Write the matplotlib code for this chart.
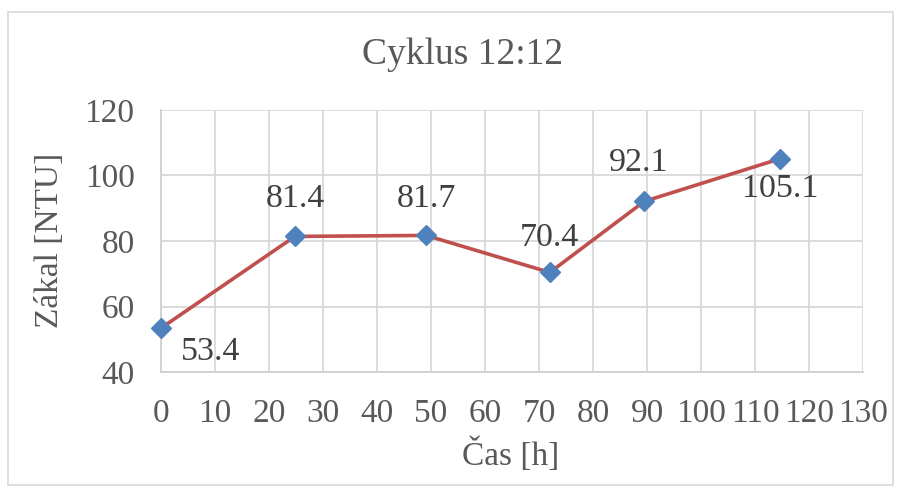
import matplotlib
matplotlib.use("Agg")
import matplotlib.pyplot as plt
from matplotlib.patches import Rectangle

x_hours = [0, 24.8, 49.1, 72, 89.5, 114.6]
turbidity = [53.4, 81.4, 81.7, 70.4, 92.1, 105.1]
x_ticks = list(range(0, 131, 10))
y_ticks = [40, 60, 80, 100, 120]
title = "Cyklus 12:12"
xlabel = "Čas [h]"
ylabel = "Zákal [NTU]"

plt.rcParams['font.family'] = ['Liberation Serif', 'DejaVu Serif']
txt = '#595959'
lab = '#404040'

fig = plt.figure(figsize=(9.01, 4.95), dpi=100)
ax = fig.add_axes([161/901, 1-372/495, (863-161)/901, (372-110)/495])

ax.plot(x_hours, turbidity, color='#C0504D', lw=2.6, marker='D', markersize=10,
        markerfacecolor='#4F81BD', markeredgecolor='#4F81BD', zorder=3, clip_on=False)

offsets = [(50, -24), (0, 38), (0, 37), (0, 35), (-6, 39), (0, -30)]
for xv, yv, off in zip(x_hours, turbidity, offsets):
    ax.annotate(f"{yv:.1f}", (xv, yv), xytext=off, textcoords='offset pixels',
                ha='center', va='center', fontsize=24.5, color=lab)

ax.set_xlim(0, 130)
ax.set_ylim(40, 120)
ax.set_xticks(x_ticks)
ax.set_yticks(y_ticks)
ax.grid(True, color='#D9D9D9', lw=1.3)
ax.set_axisbelow(True)
for s in ['top', 'right']:
    ax.spines[s].set_visible(False)
for s in ['left', 'bottom']:
    ax.spines[s].set_color('#D0D0D0')
    ax.spines[s].set_linewidth(1.3)
ax.tick_params(length=0, labelsize=24, colors=txt)
ax.tick_params(axis='y', pad=19)
ax.tick_params(axis='x', pad=19)

fig.text(463/901, 1-55/495, title, ha='center', va='center', fontsize=27, color=txt)
fig.text(511/901, 1-455/495, xlabel, ha='center', va='center', fontsize=24, color=txt)
fig.text(50/901, 1-240/495, ylabel, ha='center', va='center', fontsize=24, color=txt, rotation=90)

fig.patches.append(Rectangle((8/901, 1-485/495), 885/901, 473/495, transform=fig.transFigure,
                             fill=False, edgecolor='#D9D9D9', lw=1.2))

fig.savefig('out.png', dpi=100)
